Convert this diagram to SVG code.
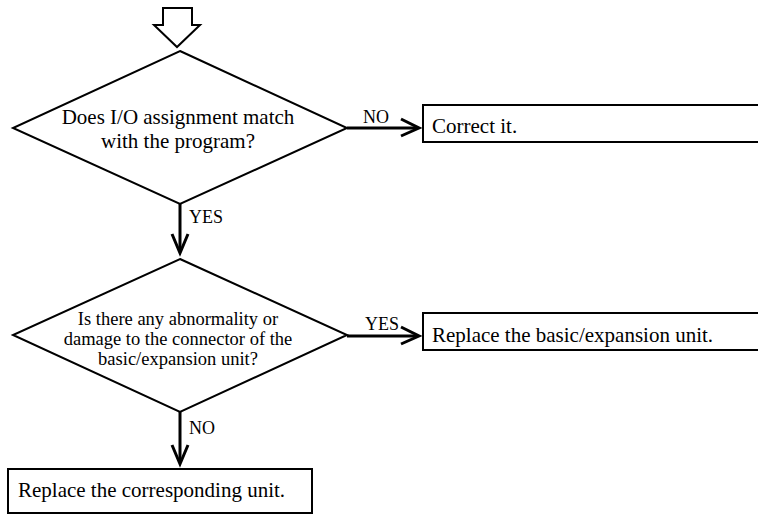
<svg xmlns="http://www.w3.org/2000/svg" width="758" height="516" viewBox="0 0 758 516">
  <style>
    .shape { fill: #ffffff; stroke: #000000; stroke-width: 2; }
    .txt { font-family: "Liberation Serif", "Times New Roman", serif; fill: #000000; }
    .big { font-size: 21px; }
    .mid { font-size: 18.5px; }
    .lbl { font-size: 18px; }
    .line { fill: none; stroke: #000000; stroke-width: 3; }
    .head { fill: none; stroke: #000000; stroke-width: 3; stroke-linejoin: miter; stroke-linecap: butt; }
  </style>

  <!-- entry arrow -->
  <g id="start">
    <polygon class="shape" stroke-width="1.6" points="163,8 192,8 192,25 200,25 177,47 154,25 163,25"/>
  </g>

  <!-- decision 1 -->
  <g id="decision-io">
    <polygon class="shape" points="180,51 347,128 180,204 13,128"/>
    <text class="txt big" text-anchor="middle" x="178" y="124">Does I/O assignment match</text>
    <text class="txt big" text-anchor="middle" x="178" y="148">with the program?</text>
  </g>

  <!-- action: correct -->
  <g id="correct">
    <rect class="shape" x="423" y="105" width="400" height="37"/>
    <text class="txt big" x="432" y="133">Correct it.</text>
  </g>

  <!-- decision 2 -->
  <g id="decision-connector">
    <polygon class="shape" points="180,259 347,335 180,412 13,335"/>
    <text class="txt mid" text-anchor="middle" x="178" y="325">Is there any abnormality or</text>
    <text class="txt mid" text-anchor="middle" x="178" y="345">damage to the connector of the</text>
    <text class="txt mid" text-anchor="middle" x="178" y="365">basic/expansion unit?</text>
  </g>

  <!-- action: replace basic/expansion unit -->
  <g id="replace-basic">
    <rect class="shape" x="423" y="313" width="400" height="37"/>
    <text class="txt big" x="432" y="342">Replace the basic/expansion unit.</text>
  </g>

  <!-- action: replace corresponding unit -->
  <g id="replace-unit">
    <rect class="shape" x="8" y="469" width="304" height="44"/>
    <text class="txt big" x="18" y="497">Replace the corresponding unit.</text>
  </g>

  <!-- connectors -->
  <g id="connectors">
    <!-- decision 1 NO -> correct -->
    <line class="line" x1="347" y1="128" x2="418" y2="128"/>
    <polyline class="head" points="401,119 419,128 401,136"/>
    <text class="txt lbl" x="363" y="123">NO</text>

    <!-- decision 1 YES -> decision 2 -->
    <line class="line" x1="180" y1="204" x2="180" y2="251"/>
    <polyline class="head" points="172,234 180,253 188,234"/>
    <text class="txt lbl" x="189" y="223">YES</text>

    <!-- decision 2 YES -> replace basic -->
    <line class="line" x1="347" y1="336" x2="418" y2="336"/>
    <polyline class="head" points="401,327 419,336 401,344"/>
    <text class="txt lbl" x="365" y="330">YES</text>

    <!-- decision 2 NO -> replace unit -->
    <line class="line" x1="180" y1="412" x2="180" y2="462"/>
    <polyline class="head" points="172,445 180,464 188,445"/>
    <text class="txt lbl" x="189" y="434">NO</text>
  </g>
</svg>
